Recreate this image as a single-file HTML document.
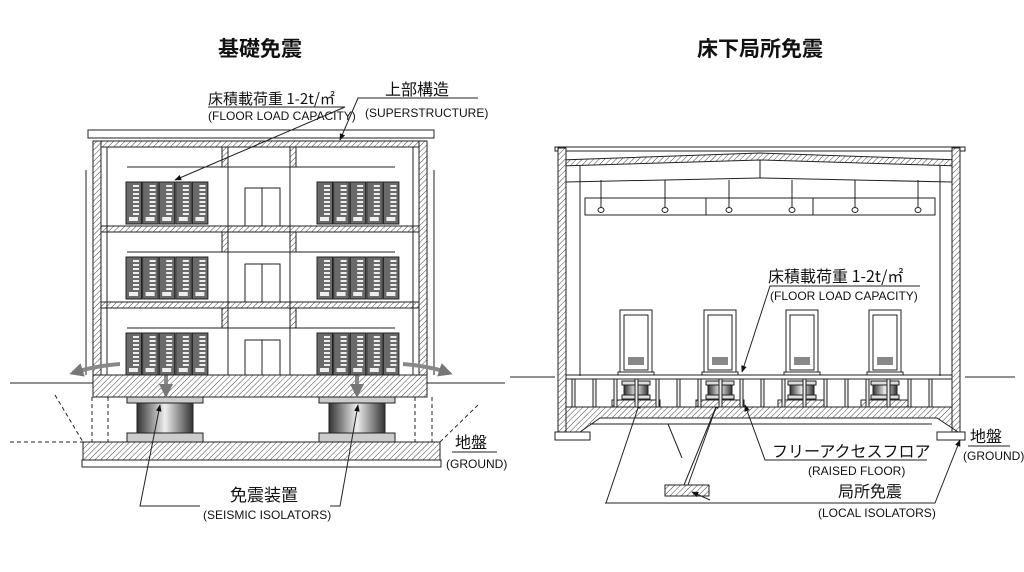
<!DOCTYPE html>
<html><head><meta charset="utf-8"><style>
body{margin:0;background:#fff}
svg{display:block}
text{font-family:"Liberation Sans","Noto Sans CJK JP",sans-serif;fill:#111}
.c{font-family:"Noto Sans CJK JP","Liberation Sans",sans-serif}
.s{font-family:"Liberation Sans Narrow","Liberation Sans",sans-serif;font-size:12px}
</style></head><body>
<svg id="s" width="1024" height="572" viewBox="0 0 1024 572" xmlns="http://www.w3.org/2000/svg">
<defs>
<pattern id="h" width="4" height="4" patternUnits="userSpaceOnUse" patternTransform="rotate(45)"><rect width="4" height="4" fill="#fff"/><line x1="0" y1="0" x2="0" y2="4" stroke="#444" stroke-width="1"/></pattern>
<linearGradient id="iso" x1="0" x2="1"><stop offset="0" stop-color="#333"/><stop offset=".5" stop-color="#eee"/><stop offset="1" stop-color="#333"/></linearGradient>
<marker id="a" viewBox="0 0 10 10" refX="9" refY="5" markerWidth="7" markerHeight="7" orient="auto-start-reverse"><path d="M0,1L10,5L0,9z" fill="#111"/></marker>
<marker id="g2" viewBox="0 0 10 10" refX="5" refY="5" markerWidth="3.5" markerHeight="3.5" orient="auto-start-reverse"><path d="M0,0L10,5L0,10z" fill="#777"/></marker>
</defs>
<g stroke="#222" stroke-width="1" fill="none" id="g">
<!-- LEFT BUILDING -->
<rect x="88" y="130" width="346" height="8" fill="#fff"/>
<rect x="93" y="141" width="334" height="6" fill="url(#h)"/>
<rect x="93" y="141" width="8" height="237" fill="url(#h)"/>
<rect x="419" y="141" width="8" height="237" fill="url(#h)"/>
<rect x="101" y="226" width="318" height="6" fill="url(#h)"/>
<rect x="101" y="302" width="318" height="6" fill="url(#h)"/>
<rect x="222" y="147" width="6" height="20" fill="url(#h)"/>
<rect x="290" y="147" width="6" height="20" fill="url(#h)"/>
<rect x="222" y="232" width="6" height="20" fill="url(#h)"/>
<rect x="290" y="232" width="6" height="20" fill="url(#h)"/>
<rect x="222" y="308" width="6" height="20" fill="url(#h)"/>
<rect x="290" y="308" width="6" height="20" fill="url(#h)"/>
<line x1="107" y1="147" x2="107" y2="375"/><line x1="413" y1="147" x2="413" y2="375"/>
<line x1="228" y1="167" x2="228" y2="375"/><line x1="290" y1="167" x2="290" y2="375"/>
<line x1="127" y1="167" x2="395" y2="167"/><line x1="127" y1="252" x2="395" y2="252"/><line x1="127" y1="328" x2="395" y2="328"/>
<rect x="245" y="188" width="35" height="38"/><rect x="245" y="264" width="35" height="38"/><rect x="245" y="340" width="35" height="36"/>
<line x1="262" y1="188" x2="262" y2="226"/><line x1="262" y1="264" x2="262" y2="302"/><line x1="262" y1="340" x2="262" y2="376"/>
<line x1="86" y1="170" x2="86" y2="375"/><line x1="434" y1="170" x2="434" y2="375"/>
<rect x="93" y="375" width="334" height="22" fill="url(#h)"/>
<rect x="127" y="397" width="76" height="6" fill="#ccc"/><rect x="137" y="403" width="56" height="30" fill="url(#iso)"/><rect x="127" y="433" width="76" height="9" fill="#ccc"/>
<rect x="319" y="397" width="76" height="6" fill="#ccc"/><rect x="329" y="403" width="56" height="30" fill="url(#iso)"/><rect x="319" y="433" width="76" height="9" fill="#ccc"/>
<rect x="83" y="442" width="357" height="18" fill="url(#h)"/><rect x="82" y="460" width="359" height="7" fill="#fff"/>
<line x1="10" y1="383" x2="93" y2="383"/><line x1="427" y1="383" x2="505" y2="383"/>
<g stroke-dasharray="4 3"><line x1="92" y1="397" x2="92" y2="442"/><line x1="108" y1="397" x2="108" y2="442"/><line x1="415" y1="397" x2="415" y2="442"/><line x1="432" y1="397" x2="432" y2="442"/><line x1="10" y1="442" x2="83" y2="442"/><line x1="55" y1="395" x2="83" y2="442"/><line x1="440" y1="442" x2="478" y2="405"/></g>
<!-- arrows in left -->
<g stroke="#888" stroke-width="4" fill="none"><line x1="166" y1="366" x2="166" y2="391" marker-start="url(#g2)" marker-end="url(#g2)"/><line x1="357" y1="366" x2="357" y2="391" marker-start="url(#g2)" marker-end="url(#g2)"/>
<path d="M120,364 Q95,366 76,372" marker-end="url(#g2)"/><path d="M403,364 Q428,366 446,372" marker-end="url(#g2)"/></g>
<!-- RIGHT BUILDING -->
<rect x="555" y="147" width="410" height="4" fill="#fff"/>
<path d="M560,160 L760,153 L960,160 L960,166 L760,160 L560,166Z" fill="url(#h)"/>
<rect x="558" y="148" width="8" height="290" fill="url(#h)"/>
<rect x="952" y="148" width="8" height="290" fill="url(#h)"/>
<line x1="580" y1="166" x2="580" y2="376"/><line x1="940" y1="166" x2="940" y2="376"/>
<line x1="566" y1="182" x2="760" y2="178"/><line x1="760" y1="178" x2="952" y2="182"/><line x1="760" y1="160" x2="760" y2="178"/>
<rect x="585" y="198" width="350" height="17"/><line x1="706" y1="198" x2="706" y2="215"/><line x1="813" y1="198" x2="813" y2="215"/>
<path d="M566,407 L952,407 L952,432 L958,432 L937,418 L600,418 L580,432 L566,432Z" fill="url(#h)"/>
<rect x="555" y="432" width="35" height="8" fill="#fff"/><rect x="937" y="432" width="28" height="8" fill="#fff"/>
<line x1="590" y1="424" x2="932" y2="424"/>
<line x1="510" y1="377" x2="555" y2="377"/><line x1="965" y1="377" x2="1015" y2="377"/>
<line x1="566" y1="375" x2="952" y2="375"/><line x1="566" y1="379" x2="952" y2="379"/>
<rect x="665" y="485" width="44" height="11" fill="url(#h)"/>
</g>
<g font-size="18">
<text x="260" y="56" text-anchor="middle" class="c" font-size="21" font-weight="bold">基礎免震</text>
<text x="760" y="56" text-anchor="middle" class="c" font-size="21" font-weight="bold">床下局所免震</text>
<text x="208" y="104" class="c" font-size="15">床積載荷重 1-2t/㎡</text>
<text x="208" y="120" class="s">(FLOOR LOAD CAPACITY)</text>
<text x="385" y="95" class="c" font-size="16">上部構造</text>
<text x="365" y="117" class="s">(SUPERSTRUCTURE)</text>
<text x="455" y="448" class="c" font-size="16">地盤</text>
<text x="446" y="468" class="s">(GROUND)</text>
<text x="230" y="501" class="c" font-size="17">免震装置</text>
<text x="203" y="519" class="s">(SEISMIC ISOLATORS)</text>
<text x="768" y="282" class="c" font-size="16">床積載荷重 1-2t/㎡</text>
<text x="770" y="300" class="s">(FLOOR LOAD CAPACITY)</text>
<text x="970" y="442" class="c" font-size="16">地盤</text>
<text x="963" y="460" class="s">(GROUND)</text>
<text x="772" y="457" class="c" font-size="16">フリーアクセスフロア</text>
<text x="808" y="475" class="s">(RAISED FLOOR)</text>
<text x="838" y="497" class="c" font-size="16">局所免震</text>
<text x="818" y="517" class="s">(LOCAL ISOLATORS)</text>
</g>
<g stroke="#222" fill="none" stroke-width="1">
<polyline points="208,107 345,107 175,180" marker-end="url(#a)"/>
<polyline points="478,98 358,98 340,140" marker-end="url(#a)"/>
<line x1="452" y1="452" x2="497" y2="452"/>
<polyline points="200,506 140,506 160,405" marker-end="url(#a)"/>
<polyline points="330,506 340,506 358,405" marker-end="url(#a)"/>
<polyline points="920,286 770,286 742,372" marker-end="url(#a)"/>
<line x1="968" y1="446" x2="1010" y2="446"/>
<polyline points="927,460 765,460 745,405" marker-end="url(#a)"/>
<polyline points="605,503 935,503 960,440" marker-end="url(#a)"/>
<line x1="606" y1="503" x2="640" y2="402" marker-end="url(#a)"/>
<line x1="710" y1="500" x2="692" y2="492" marker-end="url(#a)"/>
<line x1="684" y1="485" x2="718" y2="402" marker-end="url(#a)"/>
<line x1="688" y1="485" x2="718" y2="402"/>
<line x1="682" y1="458" x2="668" y2="424"/>
</g>
<g id="dyn"></g>
</svg>
<script>
var d=document.getElementById('dyn'),h='';
function r(x,y,w,hh,f,s){h+='<rect x="'+x+'" y="'+y+'" width="'+w+'" height="'+hh+'" fill="'+(f||'none')+'" stroke="'+(s||'#222')+'" stroke-width="1"/>';}
[126,317].forEach(function(x0){[182,257,333].forEach(function(y0){for(var i=0;i<5;i++){var x=x0+i*16.6;r(x,y0,15.5,42,'#6a6a6a');for(var k=0;k<8;k++)r(x+7,y0+3+k*4,6,2,'#eee','none');r(x+3,y0+35,9,4,'#eee','none');}});});
[620,704,786,869].forEach(function(x){r(x,310,32,64,'#fff');r(x+4,315,24,55,'#fff');r(x+8,357,16,8,'#888','none');r(x-2,372,36,3,'#fff');
r(x+2,381,28,4,'#ddd');r(x+4,385,24,10,'url(#iso)');r(x+2,395,28,4,'#ddd');r(x-8,400,48,7,'url(#h)');});
for(var x=572;x<950;x+=21){r(x,379,3,28,'#eee');}
[601,665,729,792,855,918].forEach(function(x){h+='<line x1="'+x+'" y1="180" x2="'+x+'" y2="208" stroke="#222"/><ellipse cx="'+x+'" cy="210" rx="3" ry="2.5" fill="#fff" stroke="#222"/>';});
d.innerHTML=h;
</script>
</body></html>
